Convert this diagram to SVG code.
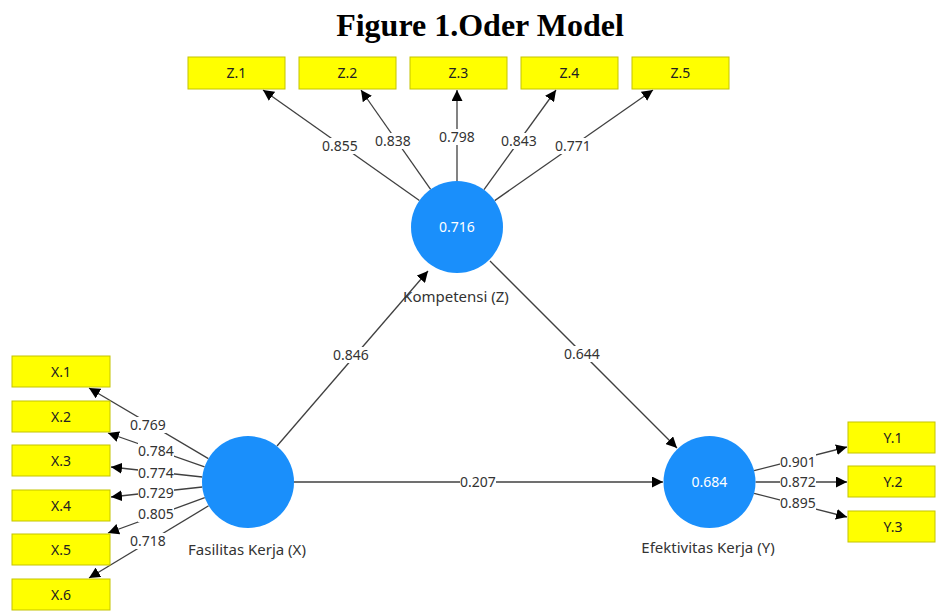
<svg xmlns="http://www.w3.org/2000/svg" width="936" height="612" viewBox="0 0 936 612">
  <defs>
    <marker id="arrow" viewBox="0 0 10 10" refX="10" refY="5" markerWidth="11" markerHeight="11" markerUnits="userSpaceOnUse" orient="auto">
      <path d="M0,0 L10,5 L0,10 z" fill="#000"/>
    </marker>
    <style>
      .title { font-family: "Liberation Serif", "Times New Roman", serif; font-weight: bold; font-size: 32px; fill: #000; text-anchor: middle; }
      .ind rect { fill: #ffff00; stroke: #c4c400; stroke-width: 1; }
      .ind text { font-family: "Noto Sans", "Open Sans", sans-serif; font-size: 14px; fill: #222; text-anchor: middle; }
      .lv circle { fill: #1a8ffb; }
      .lv .val { font-family: "Noto Sans", "Open Sans", sans-serif; font-size: 14px; fill: #fff; text-anchor: middle; }
      .lv .name { font-family: "Noto Sans", "Open Sans", sans-serif; font-size: 15px; fill: #333; text-anchor: middle; }
      .edges path { stroke: #404040; stroke-width: 1.3; fill: none; marker-end: url(#arrow); }
      .lbl rect { fill: #fff; }
      .lbl text { font-family: "Noto Sans", "Open Sans", sans-serif; font-size: 14px; fill: #333; text-anchor: middle; }
    </style>
  </defs>

  <rect width="936" height="612" fill="#fff"/>

  <text class="title" x="480" y="36">Figure 1.Oder Model</text>

  <!-- connectors -->
  <g id="connectors" class="edges">
    <!-- Z loadings -->
    <path d="M419.4,200.5 L263,90"/>
    <path d="M430.6,189.3 L361,90"/>
    <path d="M457,181 L457,90"/>
    <path d="M484,189.7 L556,90"/>
    <path d="M494.7,200.6 L653,90"/>
    <!-- X loadings -->
    <path d="M208.4,458.6 L89,388"/>
    <path d="M204.6,466.8 L108,433"/>
    <path d="M202.3,477 L111,467"/>
    <path d="M202.3,487 L111,497"/>
    <path d="M204.8,497.7 L108,533"/>
    <path d="M208.6,505.8 L89,578"/>
    <!-- Y loadings -->
    <path d="M754.1,470.6 L847,447"/>
    <path d="M755.5,482 L847,482"/>
    <path d="M754.1,493.4 L847,517"/>
    <!-- structural paths -->
    <path d="M277,446 L428,271"/>
    <path d="M490,261 L677,448"/>
    <path d="M293,482 L663,482"/>
  </g>

  <!-- path coefficients / loadings -->
  <g id="edge-labels" class="lbl">
    <g><rect x="322" y="138" width="36" height="16"/><text x="340" y="151">0.855</text></g>
    <g><rect x="375" y="133" width="36" height="16"/><text x="393" y="146">0.838</text></g>
    <g><rect x="439" y="129" width="36" height="16"/><text x="457" y="142">0.798</text></g>
    <g><rect x="501" y="133" width="36" height="16"/><text x="519" y="146">0.843</text></g>
    <g><rect x="555" y="138" width="36" height="16"/><text x="573" y="151">0.771</text></g>

    <g><rect x="130" y="417" width="36" height="16"/><text x="148" y="430">0.769</text></g>
    <g><rect x="138" y="443" width="36" height="16"/><text x="156" y="456">0.784</text></g>
    <g><rect x="138" y="465" width="36" height="16"/><text x="156" y="478">0.774</text></g>
    <g><rect x="138" y="485" width="36" height="16"/><text x="156" y="498">0.729</text></g>
    <g><rect x="138" y="506" width="36" height="16"/><text x="156" y="519">0.805</text></g>
    <g><rect x="130" y="533" width="36" height="16"/><text x="148" y="546">0.718</text></g>

    <g><rect x="780" y="454" width="36" height="16"/><text x="798" y="467">0.901</text></g>
    <g><rect x="780" y="474" width="36" height="16"/><text x="798" y="487">0.872</text></g>
    <g><rect x="780" y="495" width="36" height="16"/><text x="798" y="508">0.895</text></g>

    <g><rect x="333" y="347" width="36" height="16"/><text x="351" y="360">0.846</text></g>
    <g><rect x="564" y="346" width="36" height="16"/><text x="582" y="359">0.644</text></g>
    <g><rect x="460" y="474" width="36" height="16"/><text x="478" y="487">0.207</text></g>
  </g>

  <!-- latent variables -->
  <g id="Z" class="lv">
    <circle cx="457" cy="227" r="46"/>
    <text class="val" x="457" y="232">0.716</text>
    <text class="name" x="456" y="302">Kompetensi (Z)</text>
  </g>
  <g id="X" class="lv">
    <circle cx="248" cy="482" r="46"/>
    <text class="name" x="247" y="555">Fasilitas Kerja (X)</text>
  </g>
  <g id="Y" class="lv">
    <circle cx="709.5" cy="482" r="46"/>
    <text class="val" x="709.5" y="487">0.684</text>
    <text class="name" x="708" y="553">Efektivitas Kerja (Y)</text>
  </g>

  <!-- indicators of Z -->
  <g id="Z1" class="ind"><rect x="188" y="57" width="97" height="32"/><text x="236.5" y="78">Z.1</text></g>
  <g id="Z2" class="ind"><rect x="299" y="57" width="97" height="32"/><text x="347.5" y="78">Z.2</text></g>
  <g id="Z3" class="ind"><rect x="410" y="57" width="97" height="32"/><text x="458.5" y="78">Z.3</text></g>
  <g id="Z4" class="ind"><rect x="521" y="57" width="97" height="32"/><text x="569.5" y="78">Z.4</text></g>
  <g id="Z5" class="ind"><rect x="632" y="57" width="97" height="32"/><text x="680.5" y="78">Z.5</text></g>

  <!-- indicators of X -->
  <g id="X1" class="ind"><rect x="12" y="356" width="98" height="31"/><text x="61" y="377">X.1</text></g>
  <g id="X2" class="ind"><rect x="12" y="401" width="98" height="31"/><text x="61" y="422">X.2</text></g>
  <g id="X3" class="ind"><rect x="12" y="445" width="98" height="31"/><text x="61" y="466">X.3</text></g>
  <g id="X4" class="ind"><rect x="12" y="490" width="98" height="31"/><text x="61" y="511">X.4</text></g>
  <g id="X5" class="ind"><rect x="12" y="534" width="98" height="31"/><text x="61" y="555">X.5</text></g>
  <g id="X6" class="ind"><rect x="12" y="579" width="98" height="31"/><text x="61" y="600">X.6</text></g>

  <!-- indicators of Y -->
  <g id="Y1" class="ind"><rect x="848" y="422" width="87" height="31"/><text x="893" y="443">Y.1</text></g>
  <g id="Y2" class="ind"><rect x="848" y="466" width="87" height="31"/><text x="893" y="487">Y.2</text></g>
  <g id="Y3" class="ind"><rect x="848" y="511" width="87" height="31"/><text x="893" y="532">Y.3</text></g>
</svg>
